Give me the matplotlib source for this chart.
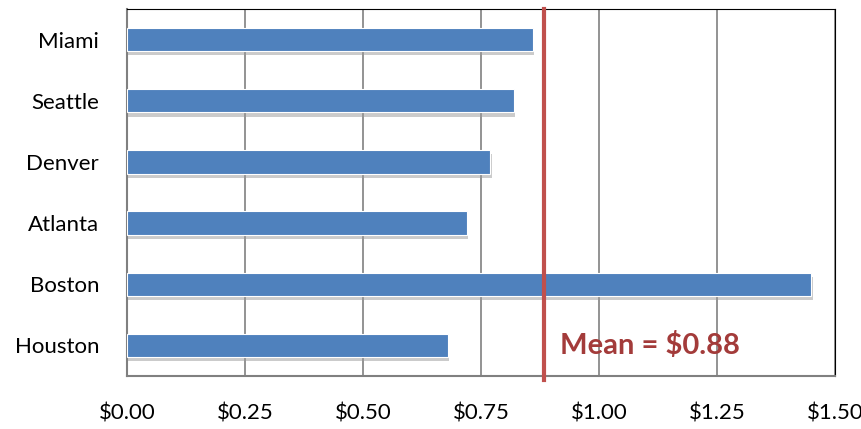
import matplotlib.pyplot as plt
import matplotlib.patheffects as pe

cities = ["Houston", "Boston", "Atlanta", "Denver", "Seattle", "Miami"]
prices = [0.68, 1.45, 0.72, 0.77, 0.82, 0.86]
xticks = [0, 0.25, 0.5, 0.75, 1.0, 1.25, 1.5]
mean_price = sum(prices) / len(prices)

plt.rcParams['font.family'] = ['Lato', 'DejaVu Sans']

fig = plt.figure(figsize=(8.62, 4.29), dpi=100)
ax = fig.add_axes([127/862, 1 - 376/429, (835-127)/862, (376-9)/429])

bars = ax.barh(range(len(cities)), prices, height=0.38, color='#4F81BD', zorder=3,
               edgecolor='white', linewidth=0.8)
for b in bars:
    b.set_path_effects([pe.SimplePatchShadow(offset=(1, -3), shadow_rgbFace='#999999', alpha=0.5),
                        pe.Normal()])

ax.axvline(mean_price, color='#C0504D', linewidth=3, zorder=4, ymin=-0.01, clip_on=False)
ax.text(mean_price + 0.033, 0, f"Mean = ${mean_price:.2f}", color='#A33B3A', fontsize=21,
        fontweight='bold', va='center', ha='left', zorder=5)

ax.set_xlim(0, 1.5)
ax.set_ylim(-0.5, len(cities) - 0.5)
ax.set_xticks(xticks)
ax.set_xticklabels([f"${v:.2f}" for v in xticks], fontsize=16)
ax.set_yticks(range(len(cities)))
ax.set_yticklabels(cities, fontsize=16)
ax.tick_params(axis='x', length=0, pad=20)
ax.tick_params(axis='y', length=0, pad=20)
ax.grid(axis='x', color='#808080', linewidth=1.2, zorder=0)

for s in ['top', 'right']:
    ax.spines[s].set_color('black')
for s in ['left', 'bottom']:
    ax.spines[s].set_color('#808080')
    ax.spines[s].set_linewidth(1.5)

fig.savefig('out.png', dpi=100)
